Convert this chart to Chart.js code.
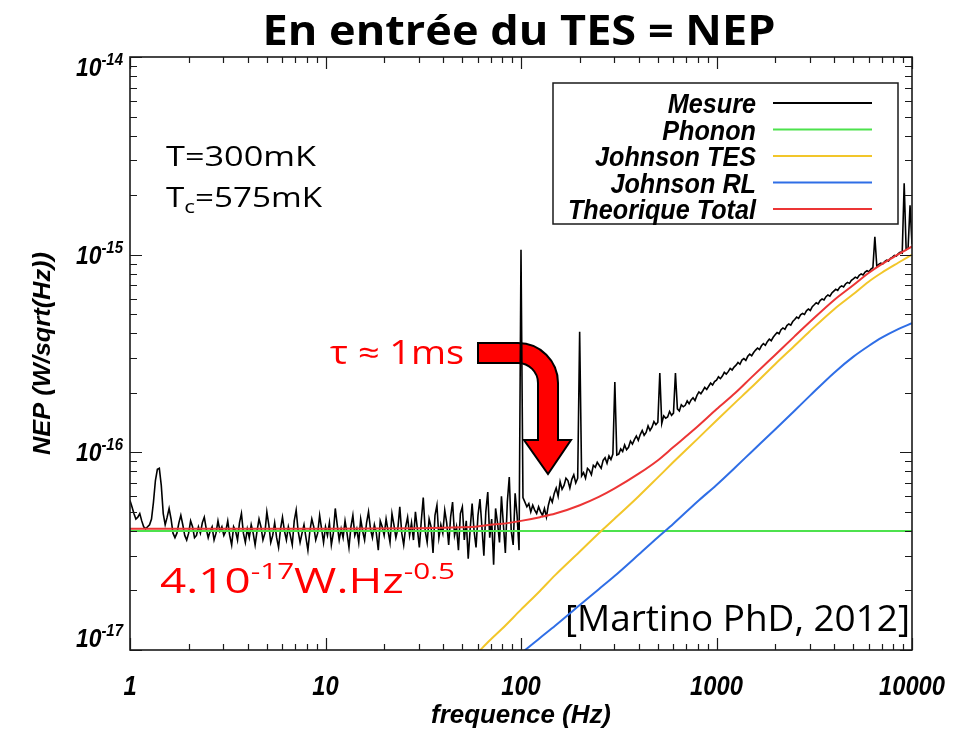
<!DOCTYPE html>
<html>
<head>
<meta charset="utf-8">
<title>En entrée du TES = NEP</title>
<script src="https://cdn.jsdelivr.net/npm/chart.js@4"></script>
<style>
  html, body { margin: 0; padding: 0; background: #fff; }
  #chart { display: block; }
</style>
</head>
<body>
<canvas id="chart" width="973" height="730"></canvas>
<script>
// all NEP values below are in units of 1e-17 W/sqrt(Hz)
const NEP_UNIT = 1e-17;

// measured spectrum, one value every 0.01 decade from 1 Hz to 10 kHz
const mesureLogStart = 0;
const mesureLogStep = 0.01;
const mesureVal = [
  5.7, 5.3, 4.9, 4.6, 4.7, 4.9, 4.5, 4.2, 4.1, 4.2,
  4.3, 4.6, 5.6, 7.2, 8.2, 8.3, 6.8, 4.9, 4.3, 4.7,
  5.2, 4.6, 3.9, 3.7, 3.9, 4.4, 4.8, 4.3, 3.8, 3.6,
  3.9, 4.5, 4.2, 3.7, 3.8, 4.2, 3.9, 4.4, 4.7, 4.1,
  3.7, 4.0, 4.2, 3.6, 3.9, 4.5, 4.0, 4.2, 3.8, 4.0,
  4.5, 3.8, 3.4, 4.2, 4.0, 3.6, 4.4, 4.9, 3.9, 3.5,
  4.1, 3.7, 4.3, 3.9, 3.4, 4.0, 4.6, 4.2, 3.6, 3.9,
  5.0, 4.3, 3.5, 3.8, 4.4, 3.7, 3.3, 4.1, 4.7, 4.0,
  3.6, 4.2, 3.8, 3.4, 4.5, 5.1, 4.0, 3.5, 3.9, 4.3,
  3.7, 3.2, 4.0, 4.6, 4.2, 3.6, 3.9, 4.8, 4.1, 3.5,
  4.2, 3.8, 4.4, 3.4, 3.9, 5.2, 4.3, 3.6, 4.1, 3.7,
  4.5, 3.9, 3.3, 4.2, 4.8, 3.8, 4.1, 3.5, 4.6, 4.0,
  3.6, 4.4, 5.0, 4.1, 3.7, 4.3, 3.9, 3.2, 4.5, 4.2,
  3.8, 4.6, 4.0, 3.5, 4.9, 4.3, 3.7, 4.1, 5.3, 3.9,
  3.4, 4.2, 4.7, 3.8, 4.4, 3.6, 5.0, 4.1, 3.3, 4.5,
  5.9, 4.0, 3.5, 4.6, 4.2, 3.1, 4.8, 5.4, 3.7, 4.3,
  3.9, 5.1, 4.4, 3.4, 4.7, 5.6, 3.8, 4.2, 3.2, 4.9,
  5.3, 3.6, 4.5, 2.9, 4.1, 5.5, 4.0, 3.3, 4.8, 5.8,
  4.2, 3.0, 5.0, 6.3, 3.7, 4.6, 2.7, 5.2, 4.4, 3.5,
  6.0, 4.3, 3.1, 5.6, 7.5, 4.0, 3.4, 6.2, 4.8, 3.2,
  106, 5.9, 5.6, 5.3, 5.5, 5.0, 5.4, 5.1, 4.9, 5.3,
  5.0, 4.8, 5.2, 4.7, 5.4, 5.9, 5.6, 6.2, 6.6, 6.0,
  7.1, 6.5, 6.8, 7.4, 7.2, 6.6, 7.3, 7.7, 7.0, 7.4,
  40.7, 7.6, 7.9, 7.4, 8.3, 8.1, 7.7, 8.6, 8.4, 8.9,
  8.6, 8.3, 9.1, 9.4, 8.8, 9.6, 9.2, 9.8, 22.7, 9.7,
  9.8, 10.4, 10.1, 10.9, 10.3, 10.6, 11.4, 11.0, 11.6, 12.1,
  11.5, 12.3, 12.9, 12.2, 12.6, 13.6, 12.9, 13.4, 14.3, 13.8,
  14.2, 25.2, 14.0, 15.3, 14.9, 15.1, 16.1, 15.4, 15.8, 25.2,
  16.6, 16.2, 17.4, 17.0, 17.3, 18.2, 17.6, 18.4, 18.9, 18.3,
  19.4, 20.2, 19.8, 20.5, 21.3, 20.8, 21.6, 22.4, 21.9, 22.8,
  23.2, 24.1, 23.6, 24.3, 25.4, 24.9, 25.6, 26.6, 26.1, 27.0,
  27.6, 28.5, 27.9, 29.3, 29.8, 29.2, 30.6, 31.4, 30.8, 32.0,
  32.9, 33.7, 33.1, 34.6, 35.5, 34.8, 36.3, 37.4, 36.7, 38.2,
  39.3, 40.4, 39.8, 41.7, 42.6, 41.9, 43.8, 44.6, 44.0, 45.9,
  47.0, 48.3, 47.6, 49.6, 50.4, 49.8, 52.0, 53.1, 52.2, 54.6,
  55.8, 57.1, 56.3, 58.6, 59.7, 59.0, 61.3, 62.5, 61.7, 64.0,
  65.4, 66.8, 66.0, 68.4, 69.5, 68.7, 71.1, 72.4, 71.6, 74.1,
  75.5, 77.0, 76.1, 78.7, 79.9, 79.0, 81.6, 82.9, 82.0, 84.6,
  86.0, 123, 87.2, 89.4, 90.6, 89.6, 92.3, 93.7, 92.8, 95.9,
  97.2, 99.1, 98.3, 101.2, 103, 102, 230, 106, 108, 178,
  113
];

// model curves
const theoFreq = [1, 10, 30, 50, 60, 70, 80, 100, 125, 150, 200, 250, 300, 400, 500, 600,
  800, 1000, 1250, 1500, 2000, 2500, 3000, 4000, 5000, 6000, 7000, 8500, 10000];
const johnsonTesVal = [null, null, null, 0.81, 0.97, 1.13, 1.28, 1.6, 1.99, 2.4, 3.15, 3.9, 4.6, 6.0, 7.45, 8.9,
  11.7, 14.5, 17.9, 21.2, 28, 34.5, 41, 53, 63, 73, 81, 91, 100];
const johnsonRlVal = [null, null, null, null, null, null, 0.79, 0.96, 1.15, 1.33, 1.69, 2.03, 2.36, 3.04, 3.71, 4.34,
  5.64, 6.84, 8.41, 9.99, 13.1, 16.2, 19.3, 25.3, 30.4, 34.5, 38, 42, 45];
const totalVal = [4.1, 4.1, 4.13, 4.18, 4.22, 4.3, 4.35, 4.5, 4.7, 4.9, 5.4, 5.95, 6.55, 7.8, 9.1, 10.6,
  13.5, 16.5, 20, 23.8, 31.2, 38.5, 45.6, 59, 70, 80.8, 89.6, 100.3, 110];
const phononFreq = [1, 10000];
const phononVal = [4.0, 4.0];

const seriesLabels = ["Mesure", "Phonon", "Johnson TES", "Johnson RL", "Theorique Total"];
const seriesColors = ["#000000", "#4de24d", "#f2c62a", "#2f6ee6", "#ec3535"];

const xTickValues = [1, 10, 100, 1000, 10000];
const xTickLabels = ["1", "10", "100", "1000", "10000"];
const yTickExponents = [-17, -16, -15, -14];

const TEXT_FONT = '"Open Sans", Lato, sans-serif';
const AXIS_FONT = '"Liberation Sans", Arial, sans-serif';

function toPoints(freqs, vals) {
  return freqs.map((f, i) => ({ x: f, y: vals[i] == null ? null : vals[i] * NEP_UNIT }));
}

const mesureFreq = mesureVal.map((_, i) => Math.pow(10, mesureLogStart + i * mesureLogStep));

// draws a row of text pieces (for super/subscripts), squeezed to a width if asked
function drawRuns(ctx, runs, x, y, opts) {
  ctx.save();
  let total = 0;
  runs.forEach(r => {
    ctx.font = `${opts.style || ""} ${r.size}px ${opts.family}`;
    r.w = ctx.measureText(r.t).width;
    total += r.w;
  });
  const sx = opts.width ? opts.width / total : (opts.sx || 1);
  let x0 = x;
  if (opts.align === "right") x0 = x - total * sx;
  else if (opts.align === "center") x0 = x - total * sx / 2;
  ctx.translate(x0, y);
  ctx.scale(sx, 1);
  ctx.fillStyle = opts.color || "#000";
  ctx.textAlign = "left";
  ctx.textBaseline = "alphabetic";
  let cx = 0;
  runs.forEach(r => {
    ctx.font = `${opts.style || ""} ${r.size}px ${opts.family}`;
    ctx.fillText(r.t, cx, r.dy || 0);
    cx += r.w;
  });
  ctx.restore();
}

function drawArrow(ctx) {
  ctx.save();
  ctx.beginPath();
  ctx.moveTo(478, 343);
  ctx.lineTo(518, 343);
  ctx.arc(518, 383, 40, -Math.PI / 2, 0);
  ctx.lineTo(558, 440);
  ctx.lineTo(571, 440);
  ctx.lineTo(548, 474);
  ctx.lineTo(524, 440);
  ctx.lineTo(538, 440);
  ctx.lineTo(538, 383);
  ctx.arc(518, 383, 20, 0, -Math.PI / 2, true);
  ctx.lineTo(478, 363);
  ctx.closePath();
  ctx.fillStyle = "#ff0000";
  ctx.fill();
  ctx.lineWidth = 2;
  ctx.strokeStyle = "#000";
  ctx.lineJoin = "miter";
  ctx.stroke();
  ctx.restore();
}

function drawAnnotations(chart) {
  const ctx = chart.ctx;
  drawRuns(ctx, [{ t: "En entrée du TES = NEP", size: 42 }], 519, 45,
    { style: "bold", family: TEXT_FONT, align: "center", width: 513 });
  drawRuns(ctx, [{ t: "T=300mK", size: 28 }], 166, 166, { family: TEXT_FONT, width: 150 });
  drawRuns(ctx, [{ t: "T", size: 28 }, { t: "c", size: 19, dy: 6 }, { t: "=575mK", size: 28 }], 166, 207,
    { family: TEXT_FONT, width: 156 });
  drawRuns(ctx, [{ t: "τ ≈ 1ms", size: 32 }], 330, 364, { family: TEXT_FONT, width: 134, color: "#ff0000" });
  drawRuns(ctx, [
    { t: "4.10", size: 34 }, { t: "-17", size: 22, dy: -14 },
    { t: "W.Hz", size: 34 }, { t: "-0.5", size: 22, dy: -14 }
  ], 160, 593, { family: TEXT_FONT, width: 295, color: "#ff0000" });
  drawRuns(ctx, [{ t: "[Martino PhD, 2012]", size: 36 }], 565, 631, { family: TEXT_FONT, width: 345 });
  drawArrow(ctx);
}

function drawFrame(chart) {
  const { ctx, chartArea: a, scales: { x, y } } = chart;
  ctx.save();
  ctx.strokeStyle = "#1a1a1a";
  ctx.lineWidth = 1.2;
  ctx.beginPath();
  xTickValues.forEach(dec => {
    for (let m = 1; m <= 9; m++) {
      const v = dec * m;
      if (v > xTickValues[xTickValues.length - 1]) break;
      const px = Math.round(x.getPixelForValue(v)) + 0.5;
      const len = m === 1 ? 12 : 6;
      ctx.moveTo(px, a.bottom); ctx.lineTo(px, a.bottom - len);
      ctx.moveTo(px, a.top); ctx.lineTo(px, a.top + len);
    }
  });
  yTickExponents.forEach(e => {
    for (let m = 1; m <= 9; m++) {
      const v = m * Math.pow(10, e);
      if (e === yTickExponents[yTickExponents.length - 1] && m > 1) break;
      const py = Math.round(y.getPixelForValue(v)) + 0.5;
      const len = m === 1 ? 12 : 7;
      ctx.moveTo(a.left, py); ctx.lineTo(a.left + len, py);
      ctx.moveTo(a.right, py); ctx.lineTo(a.right - len, py);
    }
  });
  ctx.stroke();
  ctx.lineWidth = 1.6;
  ctx.strokeRect(a.left, a.top, a.right - a.left, a.bottom - a.top);
  ctx.restore();

  xTickValues.forEach((v, i) => {
    drawRuns(ctx, [{ t: xTickLabels[i], size: 27 }], x.getPixelForValue(v), 695,
      { style: "italic bold", family: AXIS_FONT, align: "center", sx: 0.88 });
  });
  yTickExponents.forEach(e => {
    const py = y.getPixelForValue(Math.pow(10, e));
    const base = Math.min(Math.max(py + 9, 76), 647);
    drawRuns(ctx, [{ t: "10", size: 26 }, { t: String(e), size: 17, dy: -11 }], 123, base,
      { style: "italic bold", family: AXIS_FONT, align: "right", sx: 0.88 });
  });
  drawRuns(ctx, [{ t: "frequence (Hz)", size: 26 }], (a.left + a.right) / 2, 723,
    { style: "italic bold", family: AXIS_FONT, align: "center", width: 180 });
  ctx.save();
  ctx.translate(50, (a.top + a.bottom) / 2);
  ctx.rotate(-Math.PI / 2);
  drawRuns(ctx, [{ t: "NEP (W/sqrt(Hz))", size: 23 }], 0, 0,
    { style: "italic bold", family: AXIS_FONT, align: "center", width: 203 });
  ctx.restore();
}

function drawLegendBox(chart) {
  const ctx = chart.ctx;
  ctx.save();
  ctx.fillStyle = "#fff";
  ctx.fillRect(553, 83, 345, 141);
  ctx.strokeStyle = "#1a1a1a";
  ctx.lineWidth = 1.5;
  ctx.strokeRect(553, 83, 345, 141);
  chart.data.datasets.forEach((ds, i) => {
    const cy = 103 + i * 26.5;
    drawRuns(ctx, [{ t: ds.label, size: 28 }], 756, cy + 10,
      { style: "italic bold", family: AXIS_FONT, align: "right", sx: 0.9 });
    ctx.beginPath();
    ctx.moveTo(773, cy);
    ctx.lineTo(872, cy);
    ctx.strokeStyle = ds.borderColor;
    ctx.lineWidth = 2;
    ctx.stroke();
  });
  ctx.restore();
}

const decorPlugin = {
  id: "decor",
  beforeDraw(chart) {
    const ctx = chart.ctx;
    ctx.save();
    ctx.fillStyle = "#fff";
    ctx.fillRect(0, 0, chart.width, chart.height);
    ctx.restore();
  },
  beforeDatasetsDraw(chart) { drawAnnotations(chart); },
  afterDatasetsDraw(chart) { drawFrame(chart); drawLegendBox(chart); }
};

const datasets = [
  { label: seriesLabels[0], data: toPoints(mesureFreq, mesureVal), borderColor: seriesColors[0], borderWidth: 1.6, order: 5 },
  { label: seriesLabels[1], data: toPoints(phononFreq, phononVal), borderColor: seriesColors[1], borderWidth: 2, order: 4 },
  { label: seriesLabels[2], data: toPoints(theoFreq, johnsonTesVal), borderColor: seriesColors[2], borderWidth: 2, order: 3, cubicInterpolationMode: "monotone" },
  { label: seriesLabels[3], data: toPoints(theoFreq, johnsonRlVal), borderColor: seriesColors[3], borderWidth: 2, order: 2, cubicInterpolationMode: "monotone" },
  { label: seriesLabels[4], data: toPoints(theoFreq, totalVal), borderColor: seriesColors[4], borderWidth: 2, order: 1, cubicInterpolationMode: "monotone" }
];

new Chart(document.getElementById("chart"), {
  type: "line",
  data: { datasets },
  options: {
    responsive: false,
    animation: false,
    devicePixelRatio: 1,
    layout: { padding: { top: 57, right: 61, left: 0, bottom: 0 } },
    elements: { point: { radius: 0 }, line: { tension: 0, fill: false } },
    plugins: { legend: { display: false }, tooltip: { enabled: false }, title: { display: false } },
    scales: {
      x: {
        type: "logarithmic", min: 1, max: 10000,
        grid: { display: false }, border: { display: false }, ticks: { display: false },
        afterFit(scale) { scale.height = 80; }
      },
      y: {
        type: "logarithmic", min: 1e-17, max: 1e-14,
        grid: { display: false }, border: { display: false }, ticks: { display: false },
        afterFit(scale) { scale.width = 130; }
      }
    }
  },
  plugins: [decorPlugin]
});
</script>
</body>
</html>
